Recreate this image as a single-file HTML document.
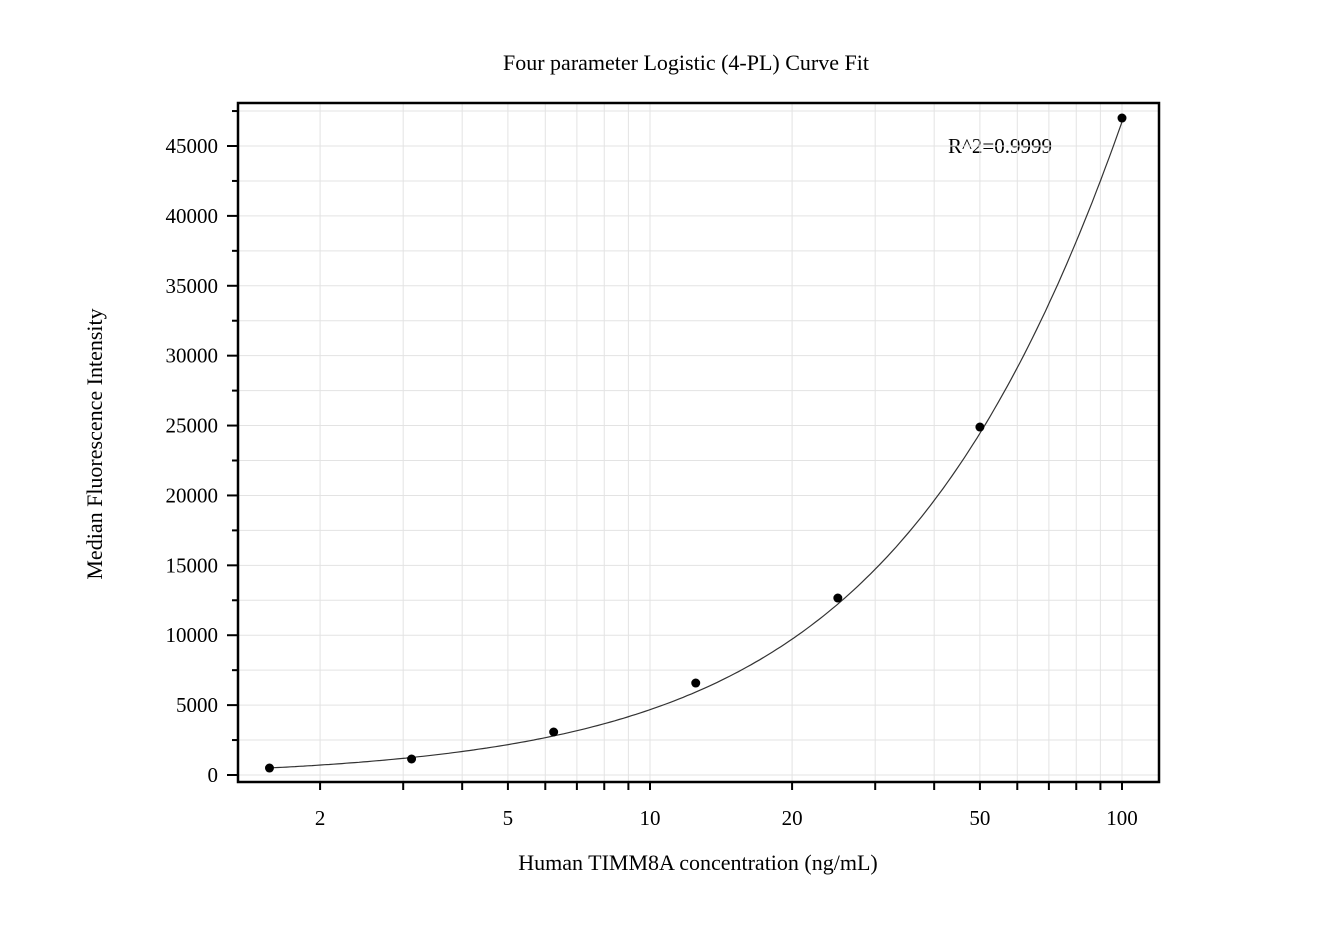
<!DOCTYPE html>
<html><head><meta charset="utf-8"><style>
body{margin:0;background:#fff}
svg text{font-family:"Liberation Serif",serif;fill:#000}
</style></head><body>
<svg id="chart" width="1336" height="931" xmlns="http://www.w3.org/2000/svg">
<text x="686" y="70" font-size="22" text-anchor="middle">Four parameter Logistic (4-PL) Curve Fit</text>
<text x="698" y="870" font-size="22" text-anchor="middle">Human TIMM8A concentration (ng/mL)</text>
<text transform="translate(102,444) rotate(-90)" font-size="22" text-anchor="middle">Median Fluorescence Intensity</text>
<text x="1000" y="153" font-size="21" text-anchor="middle">R^2=0.9999</text>
<g id="grid"></g><g id="axes"></g><g id="marks"></g>
</svg>
<script>
const concentrations=[1.5625,3.125,6.25,12.5,25,50,100];
const mfiValues=[500,1145,3076,6581,12661,24893,47000];
const yTicks=[0,5000,10000,15000,20000,25000,30000,35000,40000,45000];
const xTickLabels=[2,5,10,20,50,100];
const fitA=-200, fitB=1.05, fitC=500, fitD=301000;

const L=238,R=1159,T=103,B=782;
const X=v=>650+472*Math.log10(v/10);
const Y=v=>775-v*(775-146)/45000;
const NS='http://www.w3.org/2000/svg';
function mk(p,t,a){const e=document.createElementNS(NS,t);for(const k in a)e.setAttribute(k,a[k]);p.appendChild(e);return e;}
const grid=document.getElementById('grid'),axes=document.getElementById('axes'),marks=document.getElementById('marks');
// x grid (log minors)
for(let d=1;d<=100;d*=10)for(let m=1;m<10;m++){const v=d*m;const x=X(v);if(x<=L||x>=R)continue;
 const g=mk(grid,'line',{x1:x,x2:x,y1:T,y2:B,stroke:'#e3e3e3','stroke-width':1});
 
 
 const t=mk(axes,'line',{x1:x,x2:x,y1:B,y2:B+8,stroke:'#000','stroke-width':2});
 
 }
for(let v=0;v<=47500;v+=2500){const y=Y(v);
 const g=mk(grid,'line',{x1:L,x2:R,y1:y,y2:y,stroke:'#e3e3e3','stroke-width':1});
 
 
 const t=mk(axes,'line',{x1:L-(v%5000?6:11),x2:L,y1:y,y2:y,stroke:'#000','stroke-width':2});
 
 }
yTicks.forEach(v=>{const t=mk(axes,'text',{x:L-20,y:Y(v)+7,'font-size':21,'text-anchor':'end'});t.textContent=v;
 
 });
xTickLabels.forEach(v=>{const t=mk(axes,'text',{x:X(v),y:825,'font-size':21,'text-anchor':'middle'});t.textContent=v;
 
 });
const fr=mk(axes,'rect',{x:L,y:T,width:R-L,height:B-T,fill:'none',stroke:'#000','stroke-width':2.5});


// fit curve
let d='';for(let i=0;i<=200;i++){const lx=Math.log10(concentrations[0])+i/200*(Math.log10(100)-Math.log10(concentrations[0]));const x=Math.pow(10,lx);
 const r=Math.pow(x/fitC,fitB);const y=fitA+(fitD-fitA)*r/(1+r);d+=(i?'L':'M')+X(x).toFixed(1)+','+Y(y).toFixed(1);}
const c=mk(marks,'path',{d:d,fill:'none',stroke:'#333','stroke-width':1.2});


concentrations.forEach((v,i)=>{const p=mk(marks,'circle',{cx:X(v),cy:Y(mfiValues[i]),r:4.5,fill:'#000'});
 
 });
</script>
</body></html>
